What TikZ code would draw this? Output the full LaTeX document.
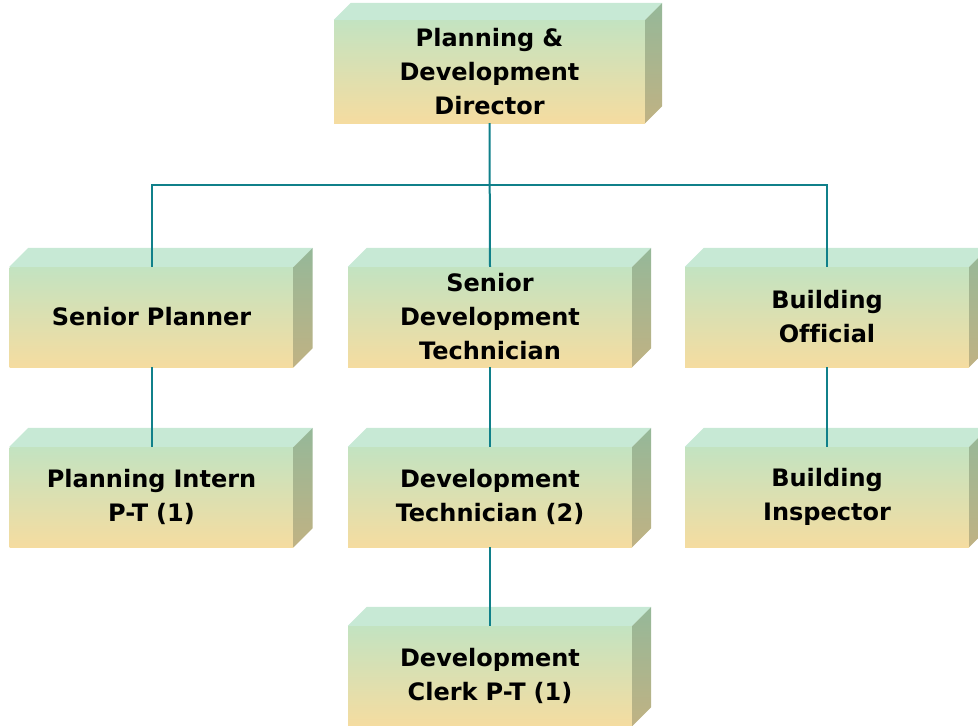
\documentclass[tikz,border=0pt]{standalone}
\usepackage{fontspec}
\setmainfont[Ligatures={NoCommon}]{DejaVu Sans}
\definecolor{fronttop}{HTML}{C3E3C1}
\definecolor{frontbot}{HTML}{F5DCA0}
\definecolor{topface}{HTML}{C7E9D5}
\definecolor{sidetop}{HTML}{95B899}
\definecolor{sidebot}{HTML}{C0B283}
\definecolor{connteal}{HTML}{10808A}
\tikzset{
  orgbox/.style={rectangle, draw=none, inner sep=0pt, minimum width=284pt, minimum height=100pt,
    top color=fronttop, bottom color=frontbot, text width=280pt, align=center,
    font=\fontsize{24pt}{34pt}\selectfont\bfseries,
    execute at end node={\par\vspace{0.5pt}}},
  conn/.style={draw=connteal, line width=2pt}
}
\newcommand\boxfaces[2]{%
  \fill[topface] (#1.north west) -- ++(#2,-#2) -- ([shift={(#2,-#2)}]#1.north east) -- (#1.north east) -- cycle;
  \shade[top color=sidetop, bottom color=sidebot] (#1.north east) -- ++(#2,-#2) -- ([shift={(#2,-#2)}]#1.south east) -- (#1.south east) -- cycle;
}
\begin{document}
\begin{tikzpicture}[x=1pt,y=-1pt]
\useasboundingbox (0,0) rectangle (978,726);
\clip (0,0) rectangle (978,726);
\node[orgbox, minimum width=311pt, minimum height=103pt, text width=300pt] (dir) at (489.5,71.5) {Planning \&\\Development\\Director};
\node[orgbox] (sp) at (151.5,317) {Senior Planner};
\node[orgbox] (sdt) at (490,317) {Senior\\Development\\Technician};
\node[orgbox] (bo) at (827,317) {Building\\Official};
\node[orgbox] (pi) at (151.5,497) {Planning Intern\\P-T (1)};
\node[orgbox] (dt) at (490,497) {Development\\Technician (2)};
\node[orgbox] (bi) at (827,497) {Building\\Inspector};
\node[orgbox] (dc) at (490,676) {Development\\Clerk P-T (1)};
\boxfaces{dir}{17}
\boxfaces{sp}{19}
\boxfaces{sdt}{19}
\boxfaces{bo}{19}
\boxfaces{pi}{19}
\boxfaces{dt}{19}
\boxfaces{bi}{19}
\boxfaces{dc}{19}
\draw[conn] (dir.south) -- (sdt.north);
\draw[conn] (sp.north) -- ++(0,-82) -| (bo.north);
\draw[conn] (sp.south) -- (pi.north);
\draw[conn] (sdt.south) -- (dt.north);
\draw[conn] (bo.south) -- (bi.north);
\draw[conn] (dt.south) -- (dc.north);
\end{tikzpicture}
\end{document}
